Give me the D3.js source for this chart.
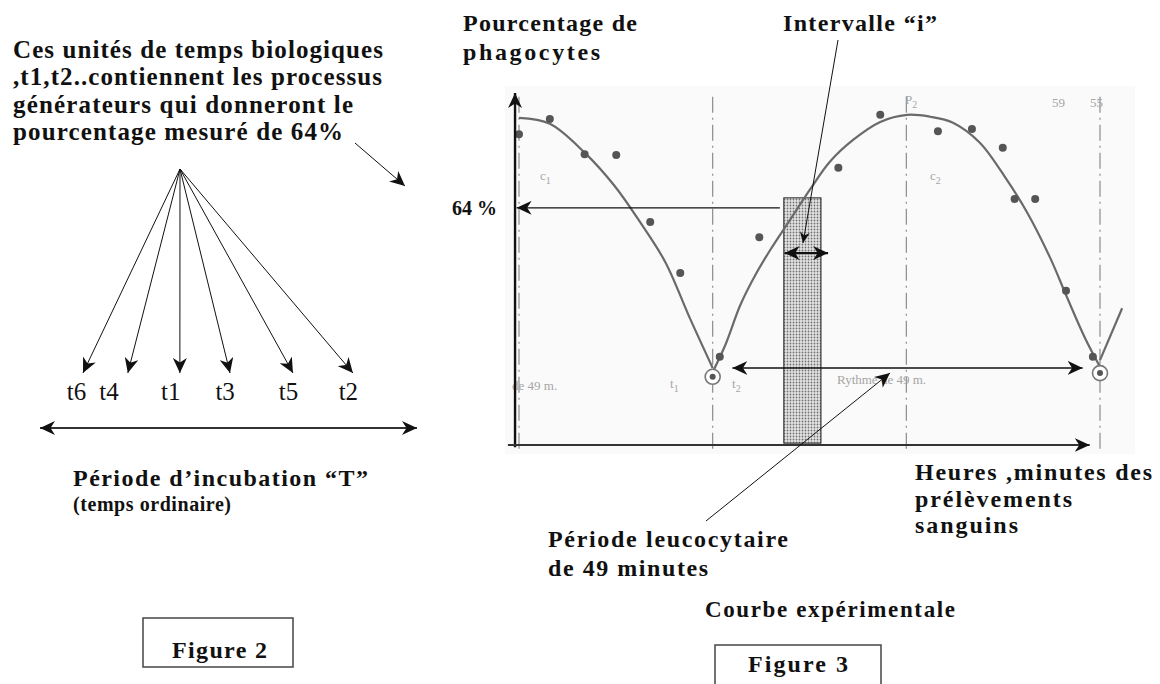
<!DOCTYPE html>
<html>
<head>
<meta charset="utf-8">
<script src="https://cdn.jsdelivr.net/npm/d3@7"></script>
<style>
  html, body { margin: 0; padding: 0; background: #fff; }
  svg { display: block; }
  text { font-family: "Liberation Serif", "Times New Roman", serif; fill: #111; }
</style>
</head>
<body>
<svg id="chart" width="1160" height="684"></svg>
<script>
// --- Figure 3: experimental curve (minutes vs % phagocytes) ---
const curveA = [[0, 88.3], [3.9, 86.7], [8.3, 78.9], [12.1, 69.9], [15.3, 60.2], [18.5, 49.4], [21.6, 34.3], [24.5, 20.8]];
const curveB = [[24.5, 19.7], [26.1, 27.0], [28.0, 37.8], [29.9, 45.9], [31.8, 52.7], [34.3, 60.8], [36.8, 68.9],
  [39.3, 76.4], [42.3, 82.4], [45.7, 87.2], [49.1, 89.1], [52.0, 88.6], [54.9, 87.0], [58.3, 81.6], [61.7, 71.6],
  [64.3, 62.7], [67.2, 50.5], [69.3, 40.0], [71.6, 28.9], [73.5, 21.1]];
const curveTail = [[73.5, 22.9], [76.3, 36.9]];

const sampleMin = [0, 3.9, 8.3, 12.3, 16.6, 20.4, 25.4, 30.4, 40.4, 45.7, 53.0, 57.3, 61.2, 62.7, 65.3, 69.2, 72.6];
const samplePct = [83.9, 88.0, 78.5, 78.3, 60.2, 46.4, 23.8, 56.1, 74.8, 89.1, 84.7, 85.3, 80.2, 66.4, 66.4, 41.6, 23.8];

const troughMin = [24.5, 73.5];
const troughPct = [18.4, 19.4];
const refMin = [0, 24.5, 49, 73.5];
const measuredPct = 64;

// --- Figure 2: biological time units inside incubation period T ---
const tNames = ['t6', 't4', 't1', 't3', 't5', 't2'];
const tLabelPos = [0.097, 0.183, 0.347, 0.491, 0.659, 0.818];
const tArrowPos = [0.114, 0.233, 0.371, 0.504, 0.671, 0.830];

const svg = d3.select('#chart');
const defs = svg.append('defs');

function marker(id, len, half) {
  defs.append('marker')
    .attr('id', id)
    .attr('viewBox', `${-len} ${-half} ${len + 1} ${half * 2}`)
    .attr('refX', 0).attr('refY', 0)
    .attr('markerWidth', len + 1).attr('markerHeight', half * 2)
    .attr('markerUnits', 'userSpaceOnUse')
    .attr('orient', 'auto-start-reverse')
    .append('path')
    .attr('d', `M0,0L${-len},${-half}L${-len * 0.7},0L${-len},${half}Z`)
    .attr('fill', '#111');
}
marker('head', 15, 7);
marker('headSm', 11, 5);

const pat = defs.append('pattern').attr('id', 'dots')
  .attr('width', 3).attr('height', 3).attr('patternUnits', 'userSpaceOnUse');
pat.append('rect').attr('width', 3).attr('height', 3).attr('fill', '#e4e4e4');
pat.append('circle').attr('cx', 1.5).attr('cy', 1.5).attr('r', 0.9).attr('fill', '#707070');

function label(txt, px, py, size, len, weight) {
  const t = svg.append('text')
    .attr('x', px).attr('y', py)
    .attr('font-size', size)
    .attr('font-weight', weight || 'bold')
    .text(txt);
  if (len) t.attr('textLength', len).attr('lengthAdjust', 'spacing');
  return t;
}

function arrow(x1, y1, x2, y2, w, head, both) {
  const l = svg.append('line')
    .attr('x1', x1).attr('y1', y1).attr('x2', x2).attr('y2', y2)
    .attr('stroke', '#111').attr('stroke-width', w)
    .attr('marker-end', `url(#${head})`);
  if (both) l.attr('marker-start', `url(#${head})`);
  return l;
}

// ---------- Figure 2 ----------
const incub = d3.scaleLinear().domain([0, 1]).range([40, 417]);
const apex = [180, 169];

label('Ces unités de temps biologiques', 13, 58, 25, 370);
label(',t1,t2..contiennent les processus', 13, 85, 25, 369);
label('générateurs qui donneront le', 13, 113, 25, 340);
label('pourcentage mesuré de 64%', 13, 140, 25, 330);

tArrowPos.forEach(p => arrow(apex[0], apex[1], incub(p), 373, 1, 'head'));

svg.append('g').selectAll('text')
  .data(tNames)
  .join('text')
  .attr('x', (d, i) => incub(tLabelPos[i]))
  .attr('y', 400)
  .attr('text-anchor', 'middle')
  .attr('font-size', 25)
  .text(d => d);

arrow(incub(0), 428, incub(1), 428, 2, 'head', true).attr('stroke', '#333');

label('Période d\u2019incubation \u201CT\u201D', 73, 486, 24, 295);
label('(temps ordinaire)', 73, 511, 20, 158);

svg.append('rect').attr('x', 143).attr('y', 618).attr('width', 150).attr('height', 49)
  .attr('fill', 'none').attr('stroke', '#444').attr('stroke-width', 1.5);
label('Figure 2', 172, 658, 24, 95);

// ---------- Figure 3 ----------
const x = d3.scaleLinear().domain([0, 73.5]).range([519, 1100]);
const y = d3.scaleLinear().domain([0, 95]).range([445, 93]);

// scanned plot background
svg.append('rect').attr('x', 505).attr('y', 86).attr('width', 630).attr('height', 368).attr('fill', '#fafafa');

// dash-dot reference verticals
svg.append('g').selectAll('line')
  .data(refMin)
  .join('line')
  .attr('x1', d => x(d)).attr('x2', d => x(d))
  .attr('y1', y(94)).attr('y2', y(-1.5))
  .attr('stroke', '#8c8c8c').attr('stroke-width', 1.2)
  .attr('stroke-dasharray', '16,5,2,5');

// faint scanned labels
const faint = (txt, px, py, sub) => {
  const t = svg.append('text').attr('x', px).attr('y', py)
    .attr('font-size', 13).style('fill', '#a5a5a5').text(txt);
  if (sub) t.append('tspan').attr('font-size', 10).attr('dy', 4).text(sub);
};
faint('c', 540, 180, '1');
faint('c', 930, 180, '2');
faint('P', 905, 104, '2');
faint('59', 1052, 107);
faint('55', 1090, 107);
faint('t', 670, 388, '1');
faint('t', 732, 388, '2');
faint('de 49 m.', 512, 390);
faint('Rythme de 49 m.', 837, 384);

// shaded interval bar
svg.append('rect')
  .attr('x', x(33.5)).attr('y', y(66.7))
  .attr('width', x(38.2) - x(33.5)).attr('height', y(0.5) - y(66.7))
  .attr('fill', 'url(#dots)').attr('stroke', '#222').attr('stroke-width', 1);

// curves
const line = d3.line().x(d => x(d[0])).y(d => y(d[1])).curve(d3.curveCatmullRom.alpha(0.5));
svg.append('g').selectAll('path')
  .data([curveA, curveB, curveTail])
  .join('path')
  .attr('d', line)
  .attr('fill', 'none').attr('stroke', '#6a6a6a').attr('stroke-width', 2.2);

// sample points
svg.append('g').selectAll('circle')
  .data(sampleMin)
  .join('circle')
  .attr('cx', d => x(d)).attr('cy', (d, i) => y(samplePct[i]))
  .attr('r', 4).attr('fill', '#555');

// trough markers
const tr = svg.append('g').selectAll('g').data(troughMin).join('g')
  .attr('transform', (d, i) => `translate(${x(d)},${y(troughPct[i])})`);
tr.append('circle').attr('r', 7.5).attr('fill', '#fff').attr('stroke', '#777').attr('stroke-width', 1.6);
tr.append('circle').attr('r', 3).attr('fill', '#555');

// axes
svg.append('line').attr('x1', x(-0.5)).attr('x2', x(-0.5)).attr('y1', y(-0.6)).attr('y2', y(95))
  .attr('stroke', '#111').attr('stroke-width', 2.4).attr('marker-end', 'url(#head)');
svg.append('line').attr('x1', x(-1.4)).attr('x2', x(72.2)).attr('y1', y(0)).attr('y2', y(0))
  .attr('stroke', '#333').attr('stroke-width', 2).attr('marker-end', 'url(#head)');

// 64 % read-off arrow
arrow(x(33.0), y(measuredPct), x(-0.3), y(measuredPct), 1.3, 'head');
label('64 %', 452, 215, 20);

// interval "i" double arrow
arrow(x(33.6), y(51.8), x(39.1), y(51.8), 2.2, 'head', true);

// rhythm double arrow
arrow(x(27.0), y(20.8), x(71.3), y(20.8), 1.4, 'head', true);

// pointers
arrow(838, 40, 803, 243, 1, 'headSm');
arrow(706, 521, 890, 373, 1, 'head');
arrow(355, 143, 405, 186, 1, 'head');

label('Pourcentage de', 463, 31, 24, 174);
label('phagocytes', 463, 60, 24, 137);
label('Intervalle \u201Ci\u201D', 783, 31, 24, 154);

label('Heures ,minutes des', 915, 480, 24, 237);
label('prélèvements', 915, 507, 24, 157);
label('sanguins', 915, 533, 24, 103);

label('Période leucocytaire', 548, 547, 24, 240);
label('de 49 minutes', 548, 576, 24, 160);

label('Courbe expérimentale', 705, 617, 23, 250);

svg.append('rect').attr('x', 715).attr('y', 645).attr('width', 166).attr('height', 60)
  .attr('fill', 'none').attr('stroke', '#444').attr('stroke-width', 1.5);
label('Figure 3', 748, 672, 24, 100);
</script>
</body>
</html>
